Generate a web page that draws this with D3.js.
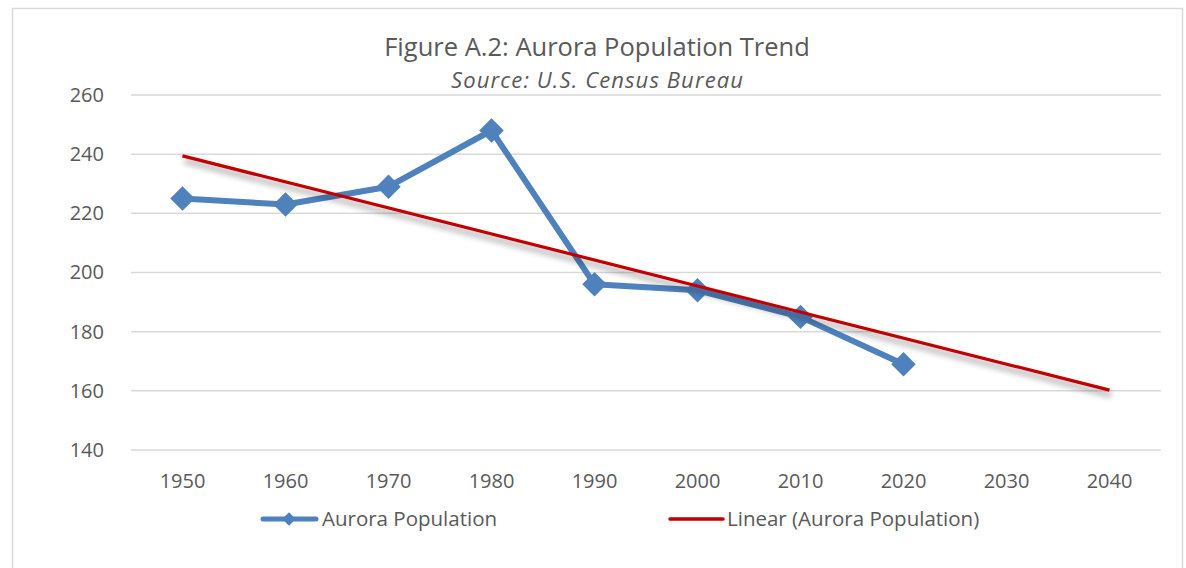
<!DOCTYPE html>
<html><head><meta charset="utf-8">
<script src="https://cdn.jsdelivr.net/npm/d3@7"></script>
<style>body{margin:0;background:#fff}svg{display:block}text{font-family:"Open Sans",sans-serif;fill:#595959}</style>
</head><body><svg id="c" width="1186" height="568"></svg>
<script>
const years = ["1950","1960","1970","1980","1990","2000","2010","2020","2030","2040"];
const population = [225,223,229,248,196,194,185,169];
const yTicks = [140,160,180,200,220,240,260];
const titleText = "Figure A.2: Aurora Population Trend";
const subtitleText = "Source: U.S. Census Bureau";
const seriesName = "Aurora Population";
const trendName = "Linear (Aurora Population)";

const svg = d3.select("#c");
const W=1186,H=568;
svg.append("rect").attr("x",12.5).attr("y",8.5).attr("width",1170).attr("height",H+10)
  .attr("fill","#fff").attr("stroke","#d9d9d9").attr("stroke-width",1.5);

const defs = svg.append("defs");
const f = defs.append("filter").attr("id","sh").attr("x","-5%").attr("y","-50%").attr("width","110%").attr("height","300%");
f.append("feGaussianBlur").attr("in","SourceAlpha").attr("stdDeviation",3).attr("result","b");
f.append("feOffset").attr("in","b").attr("dx",2).attr("dy",5).attr("result","o");
f.append("feComponentTransfer").attr("in","o").attr("result","o2").append("feFuncA").attr("type","linear").attr("slope",0.45);
const m = f.append("feMerge"); m.append("feMergeNode").attr("in","o2"); m.append("feMergeNode").attr("in","SourceGraphic");

const x = d3.scaleBand().domain(years).range([131,1161]);
const y = d3.scaleLinear().domain([140,260]).range([450,95]);

// grid
svg.append("g").selectAll("line").data(yTicks).join("line")
  .attr("x1",131).attr("x2",1161).attr("y1",d=>y(d)).attr("y2",d=>y(d))
  .attr("stroke","#d9d9d9").attr("stroke-width",1.5);

// y axis
const ya = svg.append("g").attr("transform","translate(104,0)")
  .call(d3.axisLeft(y).tickValues(yTicks).tickSize(0).tickPadding(0));
ya.select(".domain").remove();
ya.selectAll("text").style("font-family","'Open Sans',sans-serif").style("font-size","20px").attr("fill","#595959");

// x axis
const xa = svg.append("g").attr("transform","translate(0,474)")
  .call(d3.axisBottom(x).tickSize(0).tickPadding(0));
xa.select(".domain").remove();
xa.selectAll("text").style("font-family","'Open Sans',sans-serif").style("font-size","20px").attr("fill","#595959");

const cx = i => x(years[i]) + x.bandwidth()/2;

// trend (least squares over data)
const xs = population.map((_,i)=>i+1);
const mx = d3.mean(xs), my = d3.mean(population);
const slope = d3.sum(xs,(v,i)=>(v-mx)*(population[i]-my))/d3.sum(xs,v=>(v-mx)*(v-mx));
const icpt = my - slope*mx;
const trend = [0, years.length-1].map(i=>({i, v: icpt + slope*(i+1)}));

// data line
svg.append("path").datum(population)
  .attr("d", d3.line().x((d,i)=>cx(i)).y(d=>y(d)))
  .attr("fill","none").attr("stroke","#4F81BD").attr("stroke-width",6).attr("stroke-linejoin","round");
svg.append("g").selectAll("path").data(population).join("path")
  .attr("d", d3.symbol(d3.symbolSquare, 300)())
  .attr("transform",(d,i)=>`translate(${cx(i)},${y(d)}) rotate(45)`)
  .attr("fill","#4F81BD");

svg.append("path").datum(trend)
  .attr("d", d3.line().x(d=>cx(d.i)).y(d=>y(d.v)))
  .attr("fill","none").attr("stroke","#C00000").attr("stroke-width",3.2).attr("filter","url(#sh)");

// title
svg.append("text").attr("x",597).attr("y",56).attr("text-anchor","middle")
  .style("font-size","25.5px").text(titleText);
svg.append("text").attr("x",597).attr("y",88).attr("text-anchor","middle")
  .style("font-size","22px").style("font-style","italic")
  .attr("textLength",292).attr("lengthAdjust","spacing").text(subtitleText);

// legend
const lg = svg.append("g");
lg.append("line").attr("x1",263).attr("x2",316).attr("y1",519).attr("y2",519)
  .attr("stroke","#4F81BD").attr("stroke-width",5).attr("stroke-linecap","round");
lg.append("path").attr("d",d3.symbol(d3.symbolSquare,90)()).attr("transform","translate(289,519) rotate(45)").attr("fill","#4F81BD");
lg.append("text").attr("x",322).attr("y",526).style("font-size","20.5px").text(seriesName);
lg.append("line").attr("x1",670).attr("x2",723).attr("y1",519).attr("y2",519)
  .attr("stroke","#C00000").attr("stroke-width",3.5).attr("stroke-linecap","round");
lg.append("text").attr("x",727).attr("y",526).style("font-size","20.5px").text(trendName);
</script></body></html>
